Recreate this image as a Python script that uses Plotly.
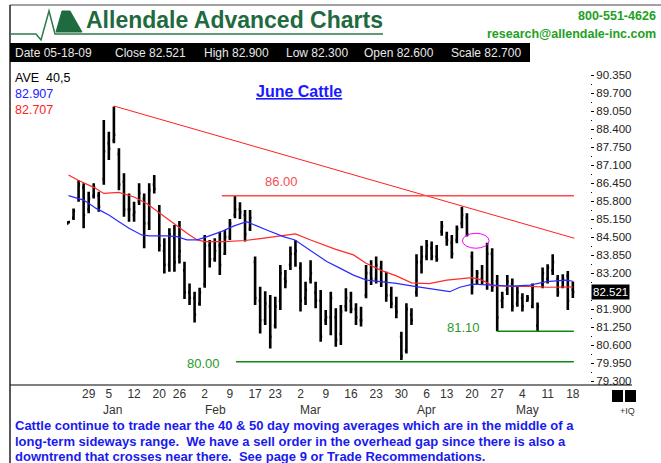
import plotly.graph_objects as go

# ---------------- data ----------------
tick_idx = [4, 8, 13, 18, 22, 27, 32, 37, 41, 46, 51, 56, 61, 66, 71, 75, 80, 85, 90, 95, 100]
tick_txt = ["29", "5", "12", "20", "26", "2", "9", "17", "23", "2", "9", "16", "23", "30",
            "6", "13", "20", "27", "4", "11", "18"]
month_names = ["Jan", "Feb", "Mar", "Apr", "May"]
month_pos = [8.8, 29.2, 48.0, 71.0, 91.0]

high = [85.08, 85.54, 86.57, 86.45, 86.14, 86.45, 86.14, 88.73, 88.31, 89.22,
        87.71, 86.81, 86.08, 85.78, 86.45, 86.08, 86.45, 86.75, 85.66, 84.46,
        84.82, 84.94, 85.08, 83.61, 82.83, 82.53, 82.67, 84.58, 84.40, 84.46,
        84.70, 84.76, 85.16, 86.02, 85.76, 85.48, 85.48, 83.80, 82.71, 82.55,
        82.41, 82.35, 83.49, 83.31, 84.16, 84.40, 83.59, 82.89, 83.67, 82.89,
        82.59, 81.87, 82.53, 81.93, 82.05, 82.65, 82.53, 82.11, 81.99, 83.49,
        83.67, 83.80, 83.65, 83.25, 82.71, 82.35, 81.08, 82.11, 81.93, 83.88,
        84.19, 84.40, 84.34, 84.22, 85.08, 84.70, 84.58, 84.92, 85.60, 85.36,
        83.98, 83.31, 83.49, 84.30, 84.10, 83.13, 82.53, 83.13, 83.01, 82.71,
        82.47, 82.41, 82.83, 82.14, 83.40, 83.52, 83.88, 83.13, 83.16, 83.28,
        82.90]
low = [84.99, 85.12, 85.78, 84.82, 85.36, 85.90, 85.42, 86.39, 87.29, 87.89,
       86.20, 85.24, 85.06, 85.06, 85.66, 84.10, 84.76, 86.08, 83.98, 83.19,
       83.25, 83.25, 83.55, 82.27, 82.05, 81.42, 82.02, 82.67, 83.40, 83.61,
       83.13, 83.86, 84.40, 85.18, 85.16, 84.34, 84.72, 82.05, 81.02, 81.33,
       80.48, 81.20, 81.87, 82.65, 83.31, 83.43, 81.81, 82.05, 82.83, 81.93,
       80.72, 81.33, 80.96, 80.54, 80.60, 81.81, 81.75, 81.33, 81.27, 82.29,
       82.77, 82.83, 82.70, 82.17, 81.93, 81.57, 80.06, 80.30, 81.33, 82.35,
       83.19, 83.67, 83.67, 83.61, 84.55, 84.19, 83.73, 84.28, 84.82, 84.52,
       82.43, 82.77, 82.77, 82.60, 82.53, 81.10, 81.93, 82.41, 81.81, 81.99,
       81.81, 82.17, 81.93, 81.10, 82.65, 82.83, 83.13, 82.35, 82.65, 81.87,
       82.30]
opn = [85.00, 85.20, 85.90, 86.30, 85.50, 86.00, 86.00, 86.60, 87.90, 88.00,
       87.50, 86.50, 85.50, 85.30, 85.80, 85.90, 85.00, 86.40, 85.40, 84.00,
       83.50, 84.50, 83.80, 83.30, 82.50, 82.30, 82.10, 82.80, 84.20, 83.70,
       84.20, 83.90, 84.50, 85.30, 85.50, 85.30, 84.80, 83.60, 82.20, 81.50,
       82.00, 81.30, 82.20, 83.00, 83.50, 83.90, 83.40, 82.30, 83.00, 82.50,
       82.20, 81.50, 81.60, 81.60, 81.00, 82.00, 82.20, 81.90, 81.50, 82.40,
       83.20, 83.00, 83.40, 82.90, 82.40, 82.00, 80.90, 80.40, 81.70, 82.50,
       83.60, 83.80, 84.10, 83.80, 84.70, 84.50, 84.30, 84.40, 85.00, 85.20,
       83.80, 82.90, 83.00, 82.90, 83.90, 82.90, 82.20, 82.60, 82.80, 82.10,
       82.30, 82.20, 82.00, 81.30, 82.80, 83.00, 83.30, 83.00, 82.70, 83.10,
       82.60]
close = [85.05, 85.45, 86.40, 85.30, 85.90, 86.30, 85.60, 87.60, 87.70, 88.20,
         86.40, 85.50, 85.50, 85.40, 86.10, 85.00, 86.20, 86.25, 84.20, 83.50,
         84.60, 83.60, 84.00, 82.50, 82.30, 81.70, 82.50, 84.20, 83.70, 84.00,
         83.50, 84.50, 85.00, 85.50, 85.40, 84.60, 85.20, 82.30, 81.50, 82.10,
         80.90, 82.00, 83.20, 82.90, 83.90, 84.00, 82.20, 82.60, 83.20, 82.20,
         80.90, 81.60, 82.30, 80.80, 81.80, 82.30, 81.90, 81.60, 81.50, 83.20,
         83.00, 83.50, 82.90, 82.40, 82.10, 81.80, 80.20, 81.90, 81.50, 83.60,
         83.80, 84.20, 83.80, 83.70, 84.90, 84.40, 83.90, 84.80, 85.30, 84.60,
         82.70, 83.20, 82.90, 83.90, 82.70, 81.60, 82.30, 82.90, 82.00, 82.50,
         82.00, 82.30, 82.70, 82.00, 83.20, 83.40, 83.60, 82.50, 83.00, 82.20,
         82.521]

ma50_x = [0, 2, 5, 7, 10, 13, 15.5, 18, 21, 23.5, 25.5, 27, 31, 35, 38, 41, 45, 48,
          50.5, 53, 56.5, 59, 62, 65, 68, 71.5, 75, 78, 80, 82, 84, 88, 91.5, 95, 98.5, 100]
ma50_y = [86.75, 86.55, 86.30, 86.08, 86.12, 85.95, 85.72, 85.38, 85.00, 84.64, 84.40,
          84.34, 84.34, 84.38, 84.45, 84.52, 84.62, 84.40, 84.22, 84.06, 83.86, 83.56,
          83.30, 83.10, 82.85, 82.82, 82.95, 83.02, 83.04, 82.95, 82.75, 82.72, 82.72,
          82.69, 82.72, 82.707]
ma40_x = [0, 3, 5.5, 8, 10, 12, 14.5, 16, 19.5, 21.5, 23.5, 25.5, 27.5, 30, 32.7, 35.3,
          39.3, 42.6, 44.9, 47.9, 51.2, 53.8, 56.5, 59.1, 62, 65, 68.3, 71.6, 75.6, 77.6,
          80.2, 84, 88, 91.5, 94.8, 98.7, 100]
ma40_y = [86.00, 85.84, 85.54, 85.30, 85.06, 84.82, 84.58, 84.55, 84.55, 84.52, 84.40,
          84.40, 84.52, 84.68, 84.90, 85.06, 84.76, 84.52, 84.40, 84.04, 83.62, 83.38,
          83.13, 82.95, 82.89, 82.83, 82.73, 82.65, 82.53, 82.69, 82.80, 82.77, 82.73,
          82.77, 82.89, 82.95, 82.907]

trend_x = [9, 100.3]
trend_y = [89.24, 84.46]
resist_level, resist_x = 86.00, [30.4, 100.2]
support_level, support_x = 80.00, [33.2, 100.2]
support2_level, support2_x = 81.10, [85.0, 100.2]
gap_circle = [78.1, 83.4, 84.10, 84.64]  # x0, x1, y0, y1

ytick_vals = [90.35, 89.70, 89.05, 88.40, 87.75, 87.10, 86.45, 85.80, 85.15, 84.50,
              83.85, 83.20, 81.90, 81.25, 80.60, 79.95, 79.30]
ytick_minor = [90.025, 89.375, 88.725, 88.075, 87.425, 86.775, 86.125, 85.475, 84.825,
               84.175, 83.525, 82.875, 82.225, 81.575, 80.925, 80.275, 79.625]
last_close = 82.521

# ---------------- layout helpers ----------------
W, H = 661, 463
L, R, T, B = 10, 590, 62, 385
FONT = "Liberation Sans, Arial, sans-serif"


def px(x):
    return (x - L) / (R - L)


def py(y):
    return (B - y) / (B - T)


fig = go.Figure()

fig.add_trace(go.Scatter(x=ma50_x, y=ma50_y, mode="lines", line=dict(color="#ff2a2a", width=1.2),
                         hoverinfo="skip", showlegend=False))
fig.add_trace(go.Scatter(x=ma40_x, y=ma40_y, mode="lines", line=dict(color="#2a2aff", width=1.2),
                         hoverinfo="skip", showlegend=False))
idx = list(range(len(high)))
fig.add_trace(go.Ohlc(x=idx, open=opn, high=high, low=low, close=close,
                      increasing=dict(line=dict(color="black", width=2.6)),
                      decreasing=dict(line=dict(color="black", width=2.6)),
                      tickwidth=0.3, showlegend=False, hoverinfo="skip"))

shapes = []
# chart lines
shapes.append(dict(type="line", xref="x", yref="y", x0=trend_x[0], y0=trend_y[0], x1=trend_x[1], y1=trend_y[1],
                   line=dict(color="#ff2020", width=1)))
shapes.append(dict(type="line", xref="x", yref="y", x0=resist_x[0], y0=resist_level, x1=resist_x[1], y1=resist_level,
                   line=dict(color="#ff4a4a", width=1.5)))
shapes.append(dict(type="line", xref="x", yref="y", x0=support_x[0], y0=support_level, x1=support_x[1], y1=support_level,
                   line=dict(color="#118811", width=1.5)))
shapes.append(dict(type="line", xref="x", yref="y", x0=support2_x[0], y0=support2_level, x1=support2_x[1], y1=support2_level,
                   line=dict(color="#118811", width=1.5)))
shapes.append(dict(type="circle", xref="x", yref="y", x0=gap_circle[0], x1=gap_circle[1], y0=gap_circle[2], y1=gap_circle[3],
                   line=dict(color="#ff00ff", width=1)))
# frame and axis line
shapes.append(dict(type="line", xref="paper", yref="paper", x0=px(10), y0=py(B), x1=px(632), y1=py(B),
                   line=dict(color="black", width=1)))
shapes.append(dict(type="line", xref="paper", yref="paper", x0=px(10), y0=py(5), x1=px(10), y1=py(463),
                   line=dict(color="#222", width=1.5)))
shapes.append(dict(type="line", xref="paper", yref="paper", x0=px(10), y0=py(5), x1=px(661), y1=py(5),
                   line=dict(color="#444", width=1)))
# date bar
shapes.append(dict(type="rect", xref="paper", yref="paper", x0=px(10), y0=py(43), x1=px(530), y1=py(62),
                   fillcolor="black", line=dict(width=0)))
# logo
shapes.append(dict(type="path", xref="paper", yref="paper",
                   path="M{},{} L{},{} L{},{} L{},{} L{},{} L{},{}".format(
                       px(10), py(34), px(36), py(34), px(41), py(40), px(49), py(11), px(55), py(34), px(383), py(34)),
                   line=dict(color="#2c7a4a", width=1.5)))
shapes.append(dict(type="path", xref="paper", yref="paper",
                   path="M{},{} L{},{} L{},{} L{},{} Z".format(px(56), py(32), px(62), py(11), px(70), py(11), px(82), py(32)),
                   fillcolor="#1f6a3f", line=dict(color="#1f6a3f", width=1)))
# black squares
shapes.append(dict(type="rect", xref="paper", yref="paper", x0=px(612), y0=py(390), x1=px(623), y1=py(402),
                   fillcolor="black", line=dict(width=0)))
shapes.append(dict(type="rect", xref="paper", yref="paper", x0=px(625), y0=py(390), x1=px(636), y1=py(402),
                   fillcolor="black", line=dict(width=0)))

ann = []


def text(x, y, s, size, color, xanchor="left", bold=False, **kw):
    ann.append(dict(xref="paper", yref="paper", x=px(x), y=py(y), text=("<b>%s</b>" % s) if bold else s,
                    showarrow=False, xanchor=xanchor, yanchor="middle",
                    font=dict(family=FONT, size=size, color=color), **kw))


text(84, 20, "Allendale Advanced Charts", 23, "#1f6a3f", bold=True)
text(658, 16, "800-551-4626", 12.5, "#22a022", xanchor="right", bold=True)
text(658, 34, "research@allendale-inc.com", 12.5, "#22a022", xanchor="right", bold=True)
date_items = [(13, "Date 05-18-09"), (113, "Close 82.521"), (202, "High 82.900"),
              (284, "Low 82.300"), (362, "Open 82.600"), (449, "Scale 82.700")]
for xx, s in date_items:
    text(xx, 53, s, 12, "#e8e8e8")
text(13, 78, "AVE  40,5", 12.5, "black")
text(13, 94, "82.907", 12.5, "#2020ff")
text(13, 110, "82.707", 12.5, "#ff2020")
text(299, 91, "<u>June Cattle</u>", 16, "#1a1aff", xanchor="center", bold=True)
text(300, 181, "86.00", 13, "#f05050", xanchor="right")
text(222, 363, "80.00", 13, "#2a9a2a", xanchor="right")
text(482, 327, "81.10", 13, "#2a9a2a", xanchor="right")
for m, p in zip(month_names, month_pos):
    ann.append(dict(xref="x", yref="paper", x=p, y=py(410), text=m, showarrow=False, xanchor="center",
                    yanchor="middle", font=dict(family=FONT, size=12, color="#333")))
text(627, 411, "+IQ", 9, "#333", xanchor="center")
comment = ["Cattle continue to trade near the 40 & 50 day moving averages which are in the middle of a",
           "long-term sideways range.  We have a sell order in the overhead gap since there is also a",
           "downtrend that crosses near there.  See page 9 or Trade Recommendations."]
for i, s in enumerate(comment):
    text(13, 425 + 16 * i, s, 13, "#1a1aee", bold=True)
# last price box on axis
ann.append(dict(xref="paper", yref="y", x=1.0, y=last_close, xshift=1, text="%.3f" % last_close, showarrow=False,
                xanchor="left", yanchor="middle", bgcolor="black", borderpad=1,
                font=dict(family=FONT, size=11.5, color="white")))

fig.update_layout(
    width=W, height=H, margin=dict(l=L, r=W - R, t=T, b=H - B, pad=0),
    paper_bgcolor="white", plot_bgcolor="white", showlegend=False,
    shapes=shapes, annotations=ann,
    xaxis=dict(range=[-11.6, 103.4], tickvals=tick_idx, ticktext=tick_txt, showgrid=False, zeroline=False,
               showline=False, ticks="", rangeslider=dict(visible=False), fixedrange=True,
               tickfont=dict(family=FONT, size=12, color="#333")),
    yaxis=dict(range=[79.158, 90.83], side="right", tickvals=ytick_vals,
               ticktext=["%.3f" % v for v in ytick_vals], showgrid=False, zeroline=False, showline=False,
               ticks="outside", ticklen=3, tickcolor="black", tickwidth=1,
               minor=dict(tickvals=ytick_minor, ticks="outside", ticklen=1, tickcolor="black", tickwidth=1),
               tickfont=dict(family=FONT, size=11.5, color="#222")),
)

fig.write_html("out.html", config={"displayModeBar": False},
               post_script="document.body.style.margin='0';document.body.style.overflow='hidden';")
